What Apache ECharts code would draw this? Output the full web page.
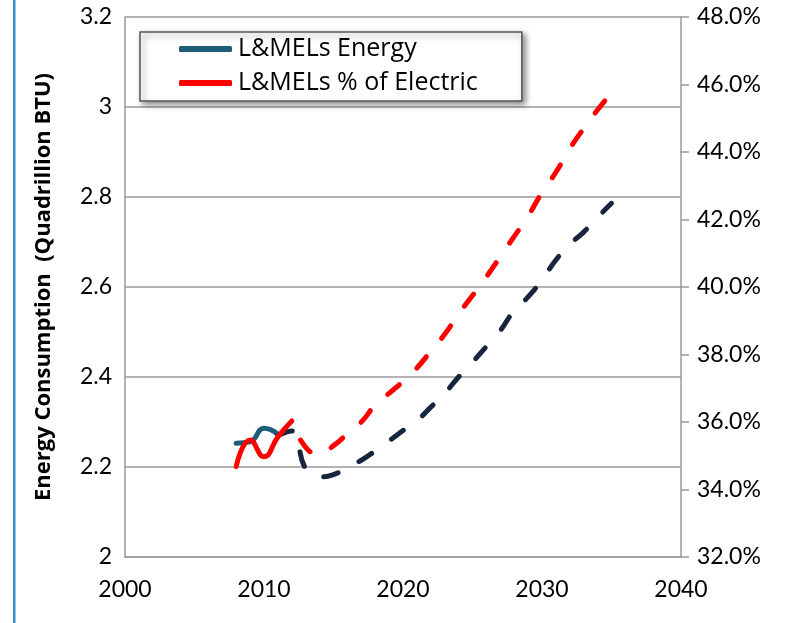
<!DOCTYPE html>
<html>
<head>
<meta charset="utf-8">
<script src="https://cdn.jsdelivr.net/npm/echarts@6/dist/echarts.min.js"></script>
<style>
html,body{margin:0;padding:0;background:#fff;}
#chart{width:789px;height:623px;}
</style>
</head>
<body>
<div id="chart"></div>
<script>
// ---- data ----
const energyActualYears = [2008, 2009, 2010, 2011];
const energyActual = [2.253, 2.256, 2.286, 2.273];
const energyProjYears = [2011,2012,2013,2014,2015,2016,2017,2018,2019,2020,2021,2022,2023,2024,2025,2026,2027,2028,2029,2030,2031,2032,2033,2034,2035];
const energyProj = [2.270,2.280,2.196,2.178,2.183,2.200,2.215,2.236,2.258,2.281,2.303,2.333,2.364,2.400,2.433,2.468,2.503,2.548,2.578,2.616,2.660,2.695,2.722,2.755,2.786];
const pctActualYears = [2008, 2009, 2010, 2011, 2012];
const pctActual = [34.68, 35.47, 34.97, 35.56, 36.03];
const pctProjYears = [2012,2013,2014,2015,2016,2017,2018,2019,2020,2021,2022,2023,2024,2025,2026,2027,2028,2029,2030,2031,2032,2033,2034,2035];
const pctProj = [36.03,35.25,35.05,35.3,35.65,36.0,36.5,36.85,37.2,37.6,38.1,38.6,39.2,39.75,40.3,40.9,41.5,42.1,42.8,43.4,44.1,44.7,45.25,45.75];
const legendNames = ['L&MELs Energy', 'L&MELs % of Electric'];
const yAxisTitle = 'Energy Consumption  (Quadrillion BTU)';

const pair = (xs, ys) => xs.map((x, i) => [x, ys[i]]);

const FONT = 'Lato';
const chart = echarts.init(document.getElementById('chart'), null, {renderer: 'canvas'});
const gray = '#9a9a9a';
chart.setOption({
  animation: false,
  backgroundColor: '#ffffff',
  graphic: [{
    type: 'rect', shape: {x: 13, y: 0, width: 2.5, height: 623},
    style: {fill: '#3b8bc9'}, silent: true
  }],
  grid: {left: 125, right: 108, top: 17, bottom: 66, containLabel: false},
  legend: {
    data: legendNames,
    orient: 'vertical',
    left: 140, top: 32,
    padding: [3, 44, 4, 39],
    itemGap: 6,
    itemWidth: 53, itemHeight: 6,
    icon: 'roundRect',
    backgroundColor: '#ffffff',
    borderColor: '#555555', borderWidth: 1.5, borderRadius: 0,
    shadowBlur: 6, shadowColor: 'rgba(0,0,0,0.45)', shadowOffsetX: 3, shadowOffsetY: 3,
    textStyle: {fontFamily: 'Open Sans', fontSize: 25, color: '#000', lineHeight: 28, padding: [0,0,0,1]}
  },
  xAxis: {
    type: 'value', min: 2000, max: 2040, interval: 10,
    axisLine: {show: true, lineStyle: {color: gray, width: 1.5}},
    axisTick: {show: false},
    splitLine: {show: false},
    axisLabel: {fontFamily: FONT, fontSize: 23, color: '#000', margin: 21,
      formatter: v => String(v)}
  },
  yAxis: [{
    type: 'value', min: 2, max: 3.2, interval: 0.2,
    name: yAxisTitle, nameLocation: 'middle', nameGap: 70, nameRotate: 90,
    nameTextStyle: {fontFamily: 'Open Sans', fontSize: 22, fontWeight: 'bold', color: '#000'},
    axisLine: {show: true, lineStyle: {color: gray, width: 1.5}},
    axisTick: {show: false},
    splitLine: {show: true, lineStyle: {color: gray, width: 1.5}},
    axisLabel: {fontFamily: FONT, fontSize: 23, color: '#000', margin: 13,
      formatter: v => String(Math.round(v * 10) / 10)}
  }, {
    type: 'value', min: 32, max: 48, interval: 2, position: 'right',
    axisLine: {show: true, lineStyle: {color: gray, width: 1.5}},
    axisTick: {show: true, inside: false, length: 8, lineStyle: {color: gray, width: 1.5}},
    splitLine: {show: false},
    axisLabel: {fontFamily: FONT, fontSize: 23, color: '#000', margin: 16,
      formatter: v => v.toFixed(1) + '%'}
  }],
  series: [{
    name: legendNames[0], type: 'line', yAxisIndex: 0,
    data: pair(energyActualYears, energyActual),
    smooth: 0.5, showSymbol: false, symbol: 'none',
    itemStyle: {color: '#1f5c7a'},
    lineStyle: {color: '#1f5c7a', width: 5, cap: 'round', join: 'round'},
    z: 2
  }, {
    name: 'L&MELs Energy (projected)', type: 'line', yAxisIndex: 0,
    data: pair(energyProjYears, energyProj),
    smooth: 0.5, showSymbol: false, symbol: 'none',
    itemStyle: {color: '#17253f'},
    lineStyle: {color: '#17253f', width: 5, type: [15, 24], dashOffset: 0, cap: 'round', join: 'round'},
    z: 2
  }, {
    name: legendNames[1], type: 'line', yAxisIndex: 1,
    data: pair(pctActualYears, pctActual),
    smooth: 0.5, showSymbol: false, symbol: 'none',
    itemStyle: {color: '#ff0000'},
    lineStyle: {color: '#ff0000', width: 5, cap: 'round', join: 'round'},
    z: 3
  }, {
    name: 'L&MELs % of Electric (projected)', type: 'line', yAxisIndex: 1,
    data: pair(pctProjYears, pctProj),
    smooth: 0.5, showSymbol: false, symbol: 'none',
    itemStyle: {color: '#ff0000'},
    lineStyle: {color: '#ff0000', width: 5, type: [15, 24], dashOffset: 18, cap: 'round', join: 'round'},
    z: 3
  }]
});
</script>
</body>
</html>
